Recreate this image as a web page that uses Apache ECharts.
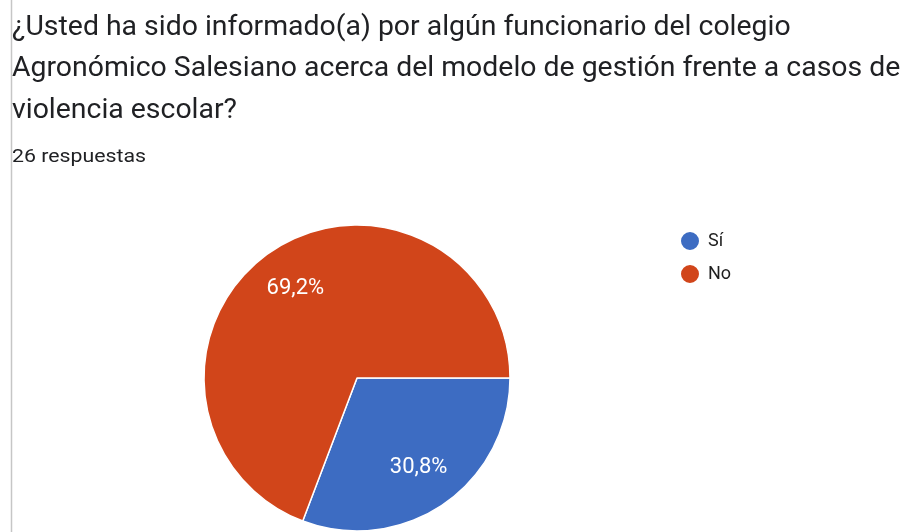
<!DOCTYPE html>
<html>
<head>
<meta charset="utf-8">
<script src="https://cdn.jsdelivr.net/npm/echarts@6/dist/echarts.min.js"></script>
<style>
  html, body { margin: 0; padding: 0; background: #fff; }
  #chart { width: 906px; height: 532px; }
</style>
</head>
<body>
<div id="chart"></div>
<script>
var titleText = '¿Usted ha sido informado(a) por algún funcionario del colegio\nAgronómico Salesiano acerca del modelo de gestión frente a casos de\nviolencia escolar?';
var subtitleText = '26 respuestas';
var categories = ['Sí', 'No'];
var values = [8, 18];
var labels = ['30,8%', '69,2%'];
var colors = ['#3d6cc2', '#d1451a'];

var pieData = categories.map(function (c, i) {
  return { name: c, value: values[i], label: { formatter: labels[i] } };
});

var chart = echarts.init(document.getElementById('chart'));
var option = {
  backgroundColor: '#fff',
  color: colors,
  legend: {
    orient: 'vertical',
    left: 674, top: 225,
    icon: 'circle',
    itemWidth: 20, itemHeight: 20, itemGap: 11,
    data: categories,
    textStyle: { fontFamily: 'Roboto', fontSize: 18, color: '#1f1f1f', padding: [0, 0, 0, 3] }
  },
  graphic: [
    { type: 'line', shape: { x1: 11.5, y1: 0, x2: 11.5, y2: 532 }, style: { stroke: '#c6c6c6', lineWidth: 1.5 } },
    {
      type: 'text', x: 12, y: 7.5, scaleX: 1.052,
      style: { text: titleText, font: '27px Roboto', fill: '#202124', lineHeight: 41.3, verticalAlign: 'top' }
    },
    {
      type: 'text', x: 12, y: 156.8, scaleX: 1.12,
      style: { text: subtitleText, font: '19px Roboto', fill: '#202124', verticalAlign: 'middle' }
    }
  ],
  series: [
    {
      type: 'pie',
      center: [357, 378],
      radius: [0, 153],
      startAngle: 0,
      clockwise: true,
      data: pieData,
      label: { show: false },
      labelLine: { show: false },
      itemStyle: { borderColor: '#fff', borderWidth: 1.5 },
      emphasis: { disabled: true }
    },
    {
      type: 'pie',
      center: [357, 378],
      radius: [58, 153],
      startAngle: 0,
      clockwise: true,
      silent: true,
      legendHoverLink: false,
      data: pieData,
      itemStyle: { color: 'transparent' },
      label: { show: true, position: 'inside', color: '#fff', fontFamily: 'Roboto', fontSize: 22 },
      labelLine: { show: false },
      emphasis: { disabled: true }
    }
  ]
};
chart.setOption(option);
</script>
</body>
</html>
